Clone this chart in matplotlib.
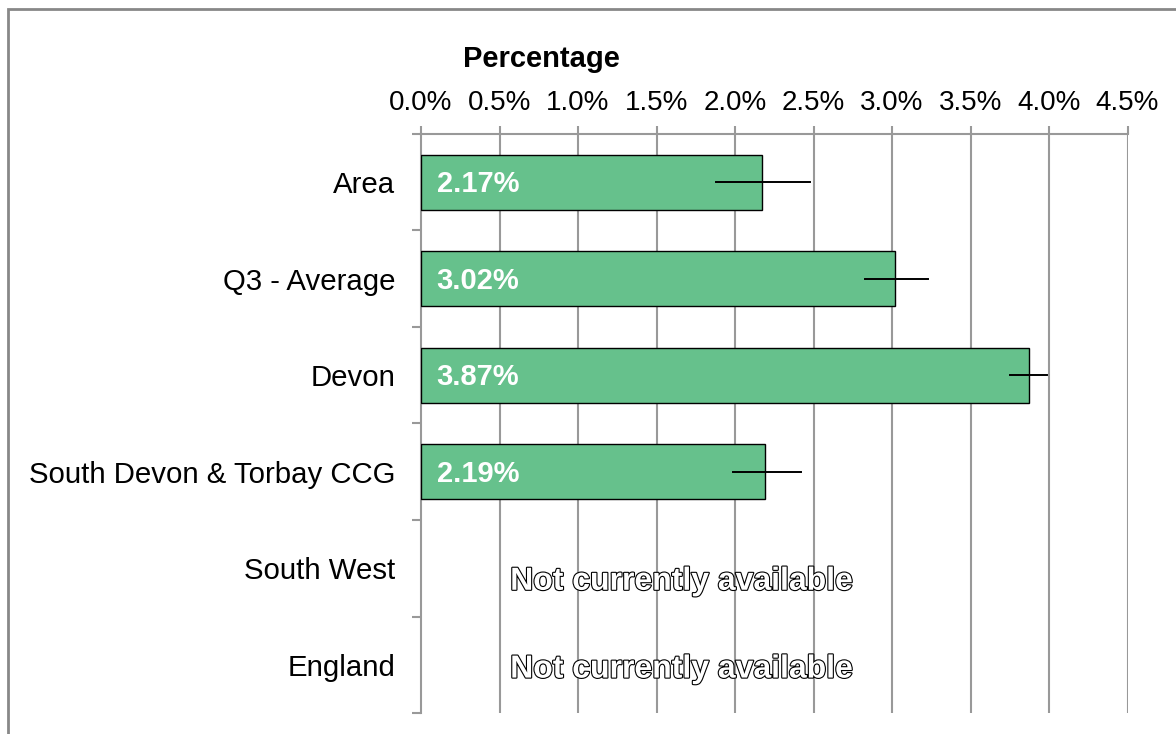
import matplotlib.pyplot as plt
import matplotlib.patheffects as pe
from matplotlib.patches import Rectangle

plt.rcParams['font.family'] = ['Liberation Sans', 'DejaVu Sans']

# data
categories = ['Area', 'Q3 - Average', 'Devon', 'South Devon & Torbay CCG', 'South West', 'England']
values = [2.17, 3.02, 3.87, 2.19, None, None]
err_low = [1.88, 2.83, 3.75, 1.99, None, None]
err_high = [2.48, 3.23, 3.99, 2.42, None, None]
xticks = [0.0, 0.5, 1.0, 1.5, 2.0, 2.5, 3.0, 3.5, 4.0, 4.5]

W, H = 1176, 734
fig = plt.figure(figsize=(W / 100, H / 100), dpi=100)

# plot area in pixels: x 421..1128, y 134..713
left, right, top, bottom = 421, 1127.5, 134, 713
ax = fig.add_axes([left / W, 1 - bottom / H, (right - left) / W, (bottom - top) / H])

grey = '#999999'
n = len(categories)
ax.set_xlim(0, 4.5)
ax.set_ylim(n, 0)

na_offset = {4: 0.14, 5: 0.05}
for i, (cat, v) in enumerate(zip(categories, values)):
    yc = i + 0.5
    if v is None:
        t = ax.text(1.66, yc + na_offset.get(i, 0.1), 'Not currently available', ha='center',
                    va='center', fontsize=23, fontweight='bold', color='white', zorder=5)
        t.set_path_effects([pe.withStroke(linewidth=1.6, foreground='black')])
        continue
    ax.barh(yc, v, height=0.57, color='#66c18c', edgecolor='black', linewidth=1, zorder=3)
    ax.plot([err_low[i], err_high[i]], [yc, yc], color='black', linewidth=1.4, zorder=4)
    ax.text(0.1, yc + 0.02, '%.2f%%' % v, ha='left', va='center', fontsize=21,
            fontweight='bold', color='white', zorder=5)

# gridlines
for x in xticks[1:]:
    ax.axvline(x, color=grey, linewidth=1.5, zorder=1)

ax.xaxis.tick_top()
ax.set_xticks(xticks)
ax.set_xticklabels(['%.1f%%' % x for x in xticks], fontsize=20)
ax.tick_params(axis='x', length=5.8, width=1.5, color=grey, pad=7.5)

ax.set_yticks(range(n + 1))
ax.set_yticklabels([])
ax.set_yticks([i + 0.5 for i in range(n)], minor=True)
ax.set_yticklabels(categories, minor=True, fontsize=21.2)
ax.tick_params(axis='y', which='major', length=6.5, width=1.5, color=grey)
ax.tick_params(axis='y', which='minor', length=0, pad=18.5)

for s in ['right', 'bottom']:
    ax.spines[s].set_visible(False)
for s in ['left', 'top']:
    ax.spines[s].set_color(grey)
    ax.spines[s].set_linewidth(1.5)

fig.text(541 / W, 1 - 59 / H, 'Percentage', ha='center', va='center', fontsize=21, fontweight='bold')

# outer frame
fig.patches.append(Rectangle((8 / W, -0.1), 1.2, 1 - 9 / H + 0.1, transform=fig.transFigure,
                             fill=False, edgecolor='#888888', linewidth=2))

fig.savefig('out.png', dpi=100)
